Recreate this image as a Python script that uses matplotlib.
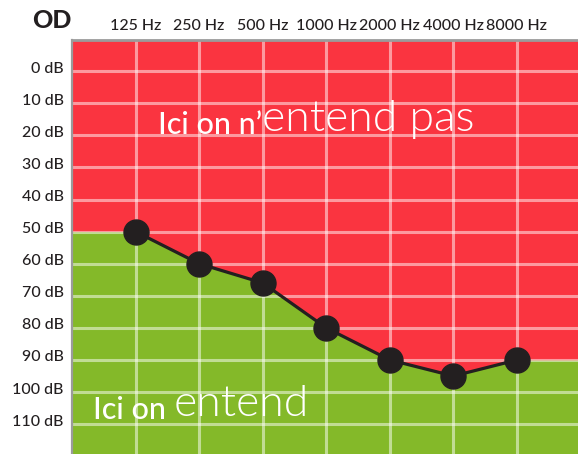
#!/usr/bin/env python3
"""Audiogramme OD : seuils d'audition par fréquence, zone entendue / non entendue."""

import matplotlib.pyplot as plt
from matplotlib import transforms as mtransforms

freq_labels = ["125 Hz", "250 Hz", "500 Hz", "1000 Hz", "2000 Hz", "4000 Hz", "8000 Hz"]
thresholds_db = [50, 60, 66, 80, 90, 95, 90]
db_ticks = [0, 10, 20, 30, 40, 50, 60, 70, 80, 90, 100, 110]

RED = "#fa3440"
GREEN = "#84b929"
DARK = "#231f20"
SPINE = "#9b9b9b"

plt.rcParams["font.family"] = ["Lato", "DejaVu Sans"]

fig = plt.figure(figsize=(5.78, 4.54), dpi=100)
ax = fig.add_axes([72 / 578, 0, 506 / 578, 414 / 454])
ax.set_facecolor(RED)

xs = list(range(len(freq_labels)))
x_min, x_max = -1, len(xs) - 0.04
ax.set_xlim(x_min, x_max)
ax.set_ylim(119.3, -9.7)

# green "heard" zone under the threshold curve, flat beyond the end points
x_fill = [x_min] + xs + [x_max]
y_fill = [thresholds_db[0]] + thresholds_db + [thresholds_db[-1]]
ax.fill_between(x_fill, y_fill, 130, color=GREEN, linewidth=0, zorder=1)

ax.plot(xs, thresholds_db, color=DARK, linewidth=2.3, marker="o",
        markersize=18, zorder=3, clip_on=False)

ax.set_xticks(xs)
ax.set_xticklabels(freq_labels, fontweight="medium")
ax.set_yticks(db_ticks)
ax.set_yticklabels([f"{d} dB" for d in db_ticks], fontweight="medium")
ax.xaxis.tick_top()
ax.tick_params(axis="both", length=0, colors=DARK, labelsize=11.5)
ax.tick_params(axis="x", pad=5)
ax.tick_params(axis="y", pad=6)
ax.grid(True, color="white", alpha=0.5, linewidth=2.2)

offset = mtransforms.ScaledTranslation(0, 4 / 100, fig.dpi_scale_trans)
for lab in ax.get_yticklabels():
    lab.set_transform(lab.get_transform() + offset)

for side in ("right", "bottom"):
    ax.spines[side].set_visible(False)
ax.spines["left"].set_color(SPINE)
ax.spines["left"].set_linewidth(1.6)
ax.spines["top"].set_color(SPINE)
ax.spines["top"].set_linewidth(2.0)

fig.text(52 / 578, 1 - 20 / 454, "OD", fontsize=18, fontweight="black",
         color=DARK, ha="center", va="center")

# zone captions
t1 = ax.annotate("Ici on n\u2019", xy=(158, 454 - 134), xycoords="figure pixels",
                 fontsize=22, fontweight="medium", color="white",
                 ha="left", va="baseline", zorder=4)
ax.annotate("entend pas", xy=(1, 0), xycoords=t1, fontsize=32,
            fontweight=300, color="white", ha="left", va="bottom", zorder=4)

t2 = ax.annotate("Ici on ", xy=(93, 454 - 419), xycoords="figure pixels",
                 fontsize=22, fontweight="medium", color="white",
                 ha="left", va="baseline", zorder=4)
ax.annotate("entend", xy=(1, 0), xycoords=t2, fontsize=32,
            fontweight=300, color="white", ha="left", va="bottom", zorder=4)

fig.savefig("out.png", dpi=100)
plt.close(fig)
